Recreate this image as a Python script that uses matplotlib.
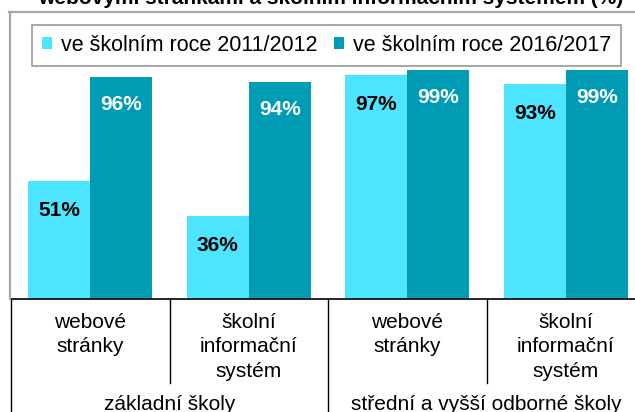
import matplotlib
matplotlib.use("Agg")
import matplotlib.pyplot as plt
from matplotlib.lines import Line2D
import numpy as np

plt.rcParams['font.family'] = ['Liberation Sans', 'DejaVu Sans']

categories = ["webové\nstránky", "školní\ninformační\nsystém", "webové\nstránky", "školní\ninformační\nsystém"]
groups = ["základní školy", "střední a vyšší odborné školy"]
series_names = ["ve školním roce 2011/2012", "ve školním roce 2016/2017"]
values_2011 = [51, 36, 97, 93]
values_2016 = [96, 94, 99, 99]
title = "webovými stránkami a školním informačním systémem (%)"

c_light = "#4DE4FF"
c_dark = "#009BB5"

W, H = 635, 412
fig = plt.figure(figsize=(W / 100, H / 100), dpi=100)

base_px = 299.0
top_px = 67.8
x_left, x_right = 11.0, 645.0
ax = fig.add_axes([x_left / W, (H - base_px) / H, (x_right - x_left) / W, (base_px - top_px) / H])
ax.set_xlim(-0.5, 3.5)
ax.set_ylim(0, 100)
for s in ["left", "right", "top"]:
    ax.spines[s].set_visible(False)
ax.spines["bottom"].set_color("black")
ax.spines["bottom"].set_linewidth(1.2)
ax.set_xticks([])
ax.set_yticks([])

x = np.arange(len(categories))
bw = 0.391
b1 = ax.bar(x - bw / 2, values_2011, bw, color=c_light, label=series_names[0], clip_on=False)
b2 = ax.bar(x + bw / 2, values_2016, bw, color=c_dark, label=series_names[1], clip_on=False)

off = -29.5 * 0.72  # points
for rect, v in zip(b1, values_2011):
    ax.annotate(f"{v}%", (rect.get_x() + rect.get_width() / 2, v), xytext=(0, off),
                textcoords="offset points", ha="center", va="center",
                fontsize=15, fontweight="bold", color="black")
for rect, v in zip(b2, values_2016):
    ax.annotate(f"{v}%", (rect.get_x() + rect.get_width() / 2, v), xytext=(0, off + 1.5),
                textcoords="offset points", ha="center", va="center",
                fontsize=15, fontweight="bold", color="white")

def yax(py):
    return (base_px - py) / (base_px - top_px)

tr = ax.get_xaxis_transform()
# category dividers
for xd, long in [(-0.5, True), (0.5, False), (1.5, True), (2.5, False), (3.5, True)]:
    yend = 420 if long else 383
    ax.plot([xd, xd], [yax(base_px), yax(yend)], color="black", lw=1.0, transform=tr, clip_on=False)

for xi, lab in zip(x, categories):
    ax.text(xi, yax(313), lab, transform=tr, ha="center", va="top", fontsize=15,
            linespacing=1.36, color="black")
for gi, g in enumerate(groups):
    ax.text(0.5 + 2 * gi, yax(404), g, transform=tr, ha="center", va="center", fontsize=15,
            color="black")

# outer gray chart border (cropped)
fig.add_artist(Line2D([9 / W, 1.0], [(H - 11.5) / H, (H - 11.5) / H], color="#A6A6A6", lw=1.6))
fig.add_artist(Line2D([10 / W, 10 / W], [(H - 11.5) / H, (H - base_px) / H], color="#A6A6A6", lw=1.6))

# cropped title
fig.text(331 / W, (H - 4) / H, title, ha="center", va="baseline", fontsize=15, fontweight="bold")

leg = fig.legend(handles=[b1, b2], labels=series_names, ncol=2, loc="center",
                 bbox_to_anchor=(326.5 / W, (H - 45.5) / H), frameon=True, fancybox=False,
                 edgecolor="#808080", fontsize=15.5, handlelength=0.5, handleheight=0.5,
                 handletextpad=0.4, columnspacing=0.75, borderpad=0.45, borderaxespad=0)
leg.get_frame().set_linewidth(1.2)

fig.savefig("out.png", dpi=100)
